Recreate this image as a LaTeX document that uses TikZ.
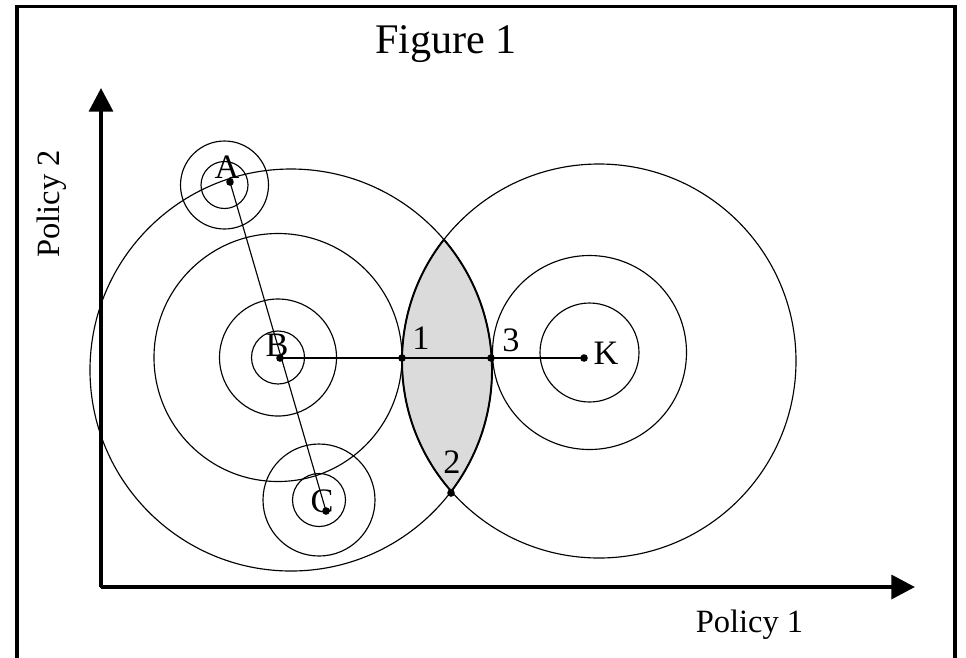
\documentclass[tikz,border=0pt]{standalone}
\usepackage{fontspec}
\setmainfont{Liberation Serif}
\usetikzlibrary{arrows.meta}
\tikzset{
	ring/.style={line width=0.65pt},
	rim/.style={line width=1.1pt},
	axis/.style={line width=2.5pt, -{Triangle[length=13.5pt,width=13.5pt]}},
	lbl/.style={font=\fontsize{19.5}{22}\selectfont, inner sep=0pt, anchor=base},
	big/.style={font=\fontsize{24}{28}\selectfont, inner sep=0pt, anchor=base},
}
\def\dotat(#1){\fill (#1) circle (3.8);}
\begin{document}
\begin{tikzpicture}[x=0.02cm, y=-0.02cm]
			%%%%% START %%%%%
			
			\clip (0, 0) rectangle (966, 657);
			\draw[line width=2pt] (17, 6.5) rectangle (955, 720);
			
			\coordinate (A) at (230, 182);
			\coordinate (B) at (280, 358);
			\coordinate (C) at (326, 511);
			\coordinate (K) at (584, 358);
			\coordinate (p1) at (402, 358);
			\coordinate (p2) at (451, 493);
			\coordinate (p3) at (491, 358);
			\coordinate (L) at (291, 370);
			\coordinate (R) at (599, 361);
			
			% shaded lens
			\begin{scope}
				\clip (L) circle (201);
				\fill[black!14] (R) circle (197);
				\draw[rim] (R) circle (197);
			\end{scope}
			\begin{scope}
				\clip (R) circle (197);
				\draw[rim] (L) circle (201);
			\end{scope}
			
			\draw[ring] (L) circle (201);
			\draw[ring] (R) circle (197);
			
			\draw[ring] (278, 357.5) circle (26.5);
			\draw[ring] (278, 357.5) circle (58.5);
			\draw[ring] (278, 357.5) circle (124);
			
			\draw[ring] (224.5, 185) circle (23.5);
			\draw[ring] (224.5, 185) circle (44);
			
			\draw[ring] (319, 500) circle (26.5);
			\draw[ring] (319, 500) circle (56);
			
			\draw[ring] (589.5, 352.5) circle (49.5);
			\draw[ring] (589.5, 352.5) circle (97);
			
			\draw[ring] (A) -- (C);
			\draw[ring] (B) -- (K);
			
			\dotat(A) \dotat(B) \dotat(C) \dotat(K)
			\dotat(p1) \dotat(p2) \dotat(p3)
			
			\node[lbl] (labA) at (227, 178) {A};
			\node[lbl] (labB) at (277, 356) {B};
			\node[lbl] (labC) at (322, 512) {C};
			\node[lbl] (labK) at (606, 364) {K};
			\node[lbl] (lab1) at (421, 349) {1};
			\node[lbl] (lab2) at (452, 473) {2};
			\node[lbl] (lab3) at (511, 351) {3};
			
			% axes
			\coordinate (O) at (101, 587);
			\coordinate (ytip) at (101, 88);
			\coordinate (xtip) at (915, 587);
			\draw[axis] (O) -- (ytip);
			\draw[axis] (O) -- (xtip);
			\fill (99.75, 585.75) rectangle (102.25, 588.25);
			
			\node[big] (title) at (446, 53) {Figure 1};
			\node[lbl, font=\fontsize{18.5}{20}\selectfont] (xlab) at (749.5, 632) {Policy 1};
			\node[lbl, font=\fontsize{18.5}{20}\selectfont, rotate=90] (ylab) at (59, 204) {Policy 2};
			
			%%%%% END %%%%%
\end{tikzpicture}
\end{document}
